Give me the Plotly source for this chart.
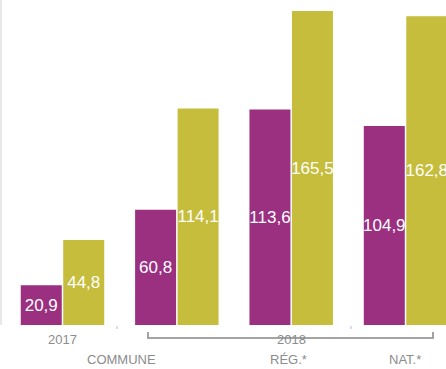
import plotly.graph_objects as go

# Data
groups = ["2017", "COMMUNE", "RÉG.*", "NAT.*"]
series_a = [20.9, 60.8, 113.6, 104.9]
series_b = [44.8, 114.1, 165.5, 162.8]

PURPLE = "#9b2f80"
OLIVE = "#c5bd3b"
GREY_TXT = "#8c8c8c"

fig = go.Figure()
for vals, col in [(series_a, PURPLE), (series_b, OLIVE)]:
    fig.add_trace(go.Bar(
        x=list(range(len(groups))), y=vals,
        marker=dict(color=col, line=dict(width=0)),
        texttemplate="%{y:.1f}",
        textposition="inside",
        insidetextanchor="middle",
        textangle=0,
        constraintext="none",
        textfont=dict(color="white", size=17, family="Liberation Sans, Arial, sans-serif"),
        hoverinfo="skip",
        showlegend=False,
    ))

fig.update_layout(
    width=446, height=369,
    margin=dict(l=0, r=0, t=0, b=44),
    paper_bgcolor="white", plot_bgcolor="white",
    barmode="group", bargap=0.257, bargroupgap=0.035,
    separators=", ",
    xaxis=dict(range=[-0.5466, 3.354], visible=False),
    yaxis=dict(range=[0, 171.3], visible=False),
    font=dict(family="Liberation Sans, Arial, sans-serif"),
)

# left border
fig.add_shape(type="rect", xref="paper", yref="paper", x0=0, x1=2 / 446, y0=0, y1=1,
              fillcolor="#e8e8e8", line=dict(width=0), layer="below")

def px(x):
    return x / 446

def py(y):
    return (325 - y) / 325

# small tick marks between groups
for tx in [117, 351]:
    fig.add_shape(type="line", xref="paper", yref="paper",
                  x0=px(tx), x1=px(tx), y0=py(326), y1=py(329),
                  line=dict(color="#c9d6e6", width=1.5))

# 2018 bracket
fig.add_shape(type="path", xref="paper", yref="paper",
              path=f"M {px(148)} {py(332)} L {px(148)} {py(338)} L {px(433)} {py(338)} L {px(433)} {py(332)}",
              line=dict(color="#a3a3a3", width=2))

labels = [("2017", 63, 339), ("2018", 291, 339),
          (groups[1], 121, 359), (groups[2], 288, 359), (groups[3], 405, 359)]
for txt, x, y in labels:
    fig.add_annotation(text=txt, xref="paper", yref="paper", x=px(x), y=py(y),
                       showarrow=False, xanchor="center", yanchor="middle",
                       font=dict(size=13, color=GREY_TXT))

fig.write_html("out.html", config={"displayModeBar": False},
               post_script="document.body.style.margin='0';")
